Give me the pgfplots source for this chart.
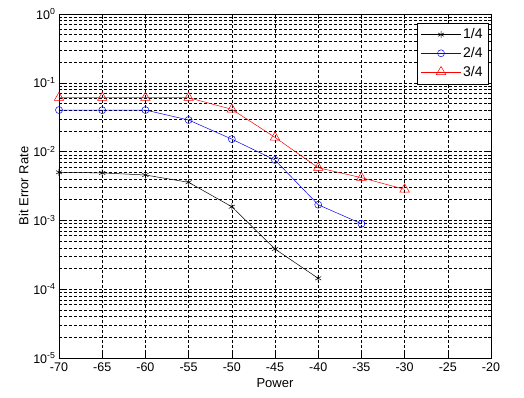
\documentclass[border=0pt]{standalone}
\usepackage{pgfplots}
\pgfplotsset{compat=1.18}
\usepackage{fontspec}
\setmainfont{Liberation Sans}
\begin{document}
\begin{tikzpicture}
\begin{axis}[
  scale only axis, width=432pt, height=344pt,
  xmin=-70, xmax=-20, ymin=1e-5, ymax=1,
  ymode=log,
  xtick={-70,-65,-60,-55,-50,-45,-40,-35,-30,-25,-20},
  xticklabels={-70,-65,-60,-55,-50,-45,-40,-35,-30,-25,-20},
  ytick={1e-5,1e-4,1e-3,1e-2,1e-1,1},
  yticklabels={10\textsuperscript{-5},10\textsuperscript{-4},10\textsuperscript{-3},10\textsuperscript{-2},10\textsuperscript{-1},10\textsuperscript{0}},
  grid=both,
  major grid style={black, line width=0.5pt, dash pattern=on 3pt off 2pt},
  minor grid style={black, line width=0.5pt, dash pattern=on 3pt off 2pt},
  axis line style={black, line width=0.6pt},
  tick align=inside, major tick length=5pt, minor tick length=3pt,
  tick style={black, line width=0.5pt},
  ticklabel style={font=\fontsize{12.5}{14}\selectfont},
  xticklabel style={yshift=-1pt},
  label style={font=\fontsize{13}{15}\selectfont},
  xlabel={Power}, ylabel={Bit Error Rate},
  xlabel style={yshift=0pt},
  ylabel style={yshift=-2pt},
  legend style={at={(0.995,0.975)}, anchor=north east, draw=black, fill=white,
    font=\fontsize{14}{16}\selectfont, row sep=3pt, inner sep=4pt},
  legend cell align=left,
  legend image code/.code={\draw[mark repeat=2,mark phase=2,#1] plot coordinates {(0cm,0cm) (0.7cm,0cm) (1.4cm,0cm)};},
]
\addplot[black, line width=0.5pt, mark=asterisk, mark size=3.5pt, mark options={solid}] coordinates {
(-70,0.0050) (-65,0.0049) (-60,0.00457) (-55,0.00358) (-50,0.00158) (-45,0.000384) (-40,0.000144)};
\addlegendentry{1/4}
\addplot[blue, line width=0.5pt, mark=o, mark size=3.5pt] coordinates {
(-70,0.0402) (-65,0.0400) (-60,0.0402) (-55,0.0288) (-50,0.0152) (-45,0.00755) (-40,0.00169) (-35,0.000895)};
\addlegendentry{2/4}
\addplot[red, line width=0.5pt, mark=triangle, mark size=5.5pt] coordinates {
(-70,0.0607) (-65,0.0607) (-60,0.0607) (-55,0.0607) (-50,0.0412) (-45,0.0161) (-40,0.00583) (-35,0.00418) (-30,0.00283)};
\addlegendentry{3/4}
\end{axis}
\path[use as bounding box] (current axis.south west) ++(-59pt,-39pt) rectangle ++(524pt,397pt);
\end{tikzpicture}
\end{document}
